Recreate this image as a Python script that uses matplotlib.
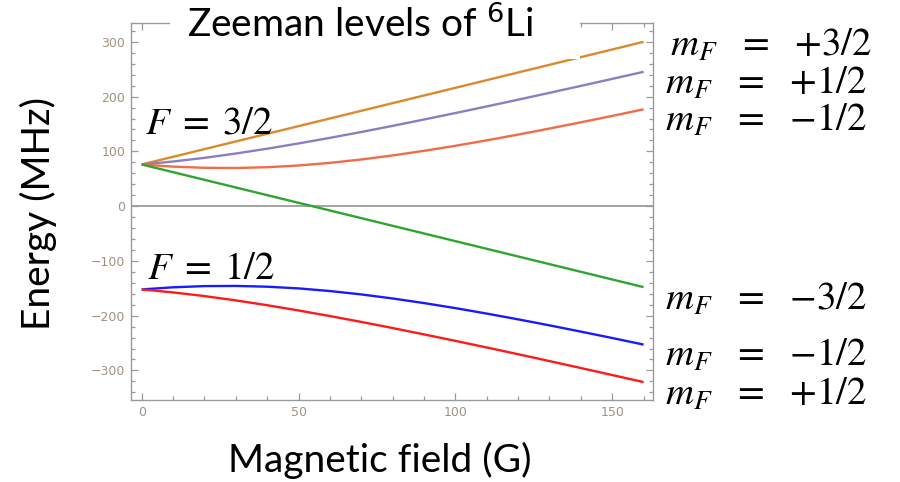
import matplotlib
matplotlib.use("Agg")
import matplotlib.pyplot as plt
from matplotlib.ticker import MultipleLocator
from matplotlib.patches import Rectangle

# Magnetic field (G)
field = [0, 10, 20, 30, 40, 50, 60, 70, 80, 90, 100, 110, 120, 130, 140, 150, 160]

# Energies (MHz)
upper_p32 = [76.1, 90.1, 104.1, 118.1, 132.1, 146.1, 160.1, 174.1, 188.1, 202.1,
             216.1, 230.1, 244.1, 258.1, 272.1, 286.1, 300.1]
upper_p12 = [76.1, 81.5, 88.2, 96.1, 104.9, 114.5, 124.7, 135.4, 146.6, 158.2,
             170.0, 182.1, 194.4, 206.9, 219.6, 232.4, 245.3]
upper_m12 = [76.1, 72.2, 70.0, 69.7, 71.1, 74.2, 79.0, 85.2, 92.6, 101.0,
             110.2, 120.2, 130.7, 141.7, 153.1, 164.8, 176.8]
upper_m32 = [76.1, 62.1, 48.1, 34.1, 20.1, 6.1, -7.9, -21.9, -35.9, -49.9,
             -63.9, -77.9, -91.9, -105.9, -119.9, -133.9, -147.9]
lower_m12 = [-152.1, -148.2, -146.0, -145.7, -147.1, -150.2, -155.0, -161.2, -168.6, -177.0,
             -186.2, -196.2, -206.7, -217.7, -229.1, -240.8, -252.8]
lower_p12 = [-152.1, -157.5, -164.2, -172.1, -180.9, -190.5, -200.7, -211.4, -222.6, -234.2,
             -246.0, -258.1, -270.4, -282.9, -295.6, -308.4, -321.3]

series = [upper_p32, upper_p12, upper_m12, upper_m32, lower_m12, lower_p12]
colors = ["#D98B2B", "#8E7CC3", "#F26B47", "#2EA52E", "#1A1AFF", "#FF1A1A"]

sp = r"\;\;\,"
right_labels = [rf"$m_F{sp}={sp}{{+}}3/2$", rf"$m_F{sp}={sp}{{+}}1/2$", rf"$m_F{sp}={sp}{{-}}1/2$",
                rf"$m_F{sp}={sp}{{-}}3/2$", rf"$m_F{sp}={sp}{{-}}1/2$", rf"$m_F{sp}={sp}{{+}}1/2$"]
right_label_px = [(670, 45), (665, 83), (665, 120), (665, 299), (665, 355), (665, 394)]

plt.rcParams['mathtext.fontset'] = 'stix'

W, H = 900, 482
fig = plt.figure(figsize=(9, 4.82), dpi=100)
ax = fig.add_axes([131 / W, 1 - 400 / H, (653 - 131) / W, (400 - 22.7) / H])

ax.axhline(0, color="#8a8a8a", lw=1.1, zorder=1)
for y, c in zip(series, colors):
    ax.plot(field, y, color=c, lw=1.7, zorder=2, solid_capstyle='butt')

ax.set_xlim(-3.4, 163)
ax.set_ylim(-354, 335)
ax.xaxis.set_major_locator(MultipleLocator(50))
ax.xaxis.set_minor_locator(MultipleLocator(10))
ax.yaxis.set_major_locator(MultipleLocator(100))
ax.yaxis.set_minor_locator(MultipleLocator(20))
gray = "#9a9a9a"
for s in ax.spines.values():
    s.set_color(gray)
    s.set_linewidth(1.0)
ax.tick_params(which='both', direction='in', top=True, right=True, color=gray,
               width=0.9, labelsize=9, labelcolor="#a09282")
ax.tick_params(which='major', length=5, pad=4)
ax.tick_params(which='minor', length=3)
ax.yaxis.set_major_formatter(matplotlib.ticker.FuncFormatter(
    lambda v, p: ("\u2212" + f"{-int(v)}") if v < 0 else f"{int(v)}"))

# white title box covering top of frame
fig.patches.append(Rectangle((170 / W, 1 - 59 / H), (580 - 170) / W, 59 / H,
                             transform=fig.transFigure, facecolor='white',
                             edgecolor='none', zorder=5))
fig.text(361 / W, 1 - 24 / H, r"Zeeman levels of $^{6}$Li", ha='center', va='center',
         fontsize=28, family='Lato', zorder=6, math_fontfamily='dejavusans')

fig.text(145 / W, 1 - 123 / H, r"$F\;=\;3/2$", ha='left', va='center', fontsize=28, zorder=6)
fig.text(147 / W, 1 - 268 / H, r"$F\;=\;1/2$", ha='left', va='center', fontsize=28, zorder=6)

for lab, (px, py) in zip(right_labels, right_label_px):
    fig.text(px / W, 1 - py / H, lab, ha='left', va='center', fontsize=28)

fig.text(38 / W, 1 - 213 / H, "Energy (MHz)", rotation=90, ha='center', va='center',
         fontsize=28, family='Lato')
fig.text(380 / W, 1 - 460 / H, "Magnetic field (G)", ha='center', va='center',
         fontsize=28, family='Lato')

fig.savefig("out.png", dpi=100)
